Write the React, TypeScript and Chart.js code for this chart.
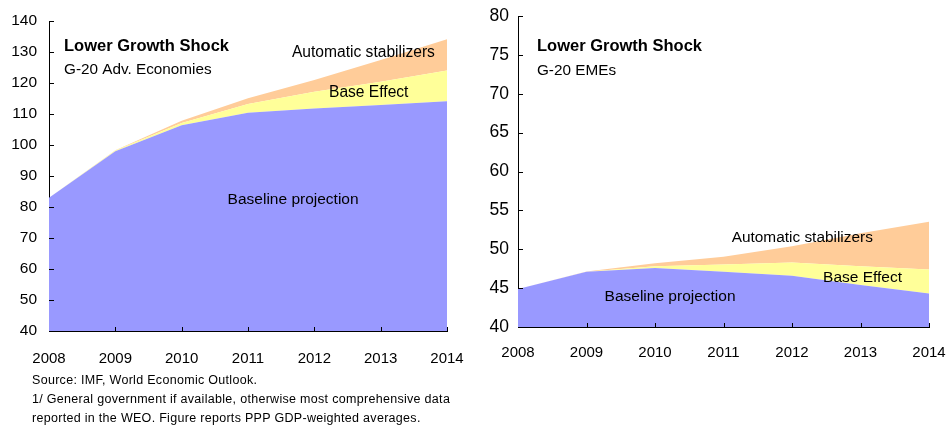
import React, { useEffect, useRef } from "react";
import { Chart, registerables } from "chart.js";

Chart.register(...registerables);

const years = ["2008", "2009", "2010", "2011", "2012", "2013", "2014"];

// G-20 Advanced Economies (stack components)
const advBaseline = [83, 98, 106.4, 110.4, 111.8, 112.9, 114.1];
const advBaseEffect = [0, 0.2, 0.7, 2.8, 5.4, 7.5, 9.9];
const advAutoStab = [0, 0.1, 0.7, 1.9, 3.8, 7.0, 10.1];

// G-20 Emerging Market Economies (stack components)
const emeBaseline = [44.9, 47.1, 47.6, 47.1, 46.6, 45.4, 44.3];
const emeBaseEffect = [0, 0, 0.2, 0.95, 1.7, 2.4, 3.1];
const emeAutoStab = [0, 0.05, 0.4, 1.0, 2.1, 4.25, 6.15];

const advYRange = [40, 140, 10];
const emeYRange = [40, 80, 5];

const seriesNames = ["Baseline projection", "Base Effect", "Automatic stabilizers"];
const seriesColors = ["#9999FF", "#FFFF99", "#FFCC99"];

const footnotes = [
  "Source: IMF, World Economic Outlook.",
  "1/ General government if available, otherwise most comprehensive data",
  "reported in the WEO. Figure reports PPP GDP-weighted averages.",
];

const FONT = "'Liberation Sans', Arial, sans-serif";

type Label = { text: string; x: number; y: number; bold?: boolean; size: number; align: CanvasTextAlign };

const advLabels: Label[] = [
  { text: "Lower Growth Shock", x: 0.226, y: 131.9, bold: true, size: 16.5, align: "left" },
  { text: "G-20 Adv. Economies", x: 0.226, y: 124.2, size: 15.3, align: "left" },
  { text: "Automatic stabilizers", x: 4.74, y: 129.8, size: 15.6, align: "center" },
  { text: "Base Effect", x: 4.82, y: 116.9, size: 15.6, align: "center" },
  { text: "Baseline projection", x: 3.68, y: 82.3, size: 15.5, align: "center" },
];

const emeLabels: Label[] = [
  { text: "Lower Growth Shock", x: 0.277, y: 76.14, bold: true, size: 16.5, align: "left" },
  { text: "G-20 EMEs", x: 0.277, y: 72.9, size: 15.3, align: "left" },
  { text: "Automatic stabilizers", x: 4.15, y: 51.45, size: 15.4, align: "center" },
  { text: "Base Effect", x: 5.03, y: 46.4, size: 15.5, align: "center" },
  { text: "Baseline projection", x: 2.22, y: 43.86, size: 15.5, align: "center" },
];

const decorPlugin = {
  id: "decor",
  afterDatasetsDraw(chart: any, _args: any, opts: any) {
    const { ctx, scales } = chart;
    const xs = scales.x;
    const ys = scales.y;
    const area = chart.chartArea;
    ctx.save();
    // inner tick marks
    ctx.strokeStyle = "#000";
    ctx.lineWidth = 1;
    ctx.beginPath();
    xs.ticks.forEach((_t: any, i: number) => {
      if (i === 0) return;
      const px = Math.round(xs.getPixelForTick(i)) + 0.5;
      ctx.moveTo(px, area.bottom);
      ctx.lineTo(px, area.bottom - 4);
    });
    ys.ticks.forEach((_t: any, i: number) => {
      const py = Math.round(ys.getPixelForTick(i)) + 0.5;
      ctx.moveTo(area.left, py);
      ctx.lineTo(area.left + 5, py);
    });
    ctx.stroke();
    // text labels
    (opts.labels || []).forEach((l: Label) => {
      ctx.font = `${l.bold ? "bold " : ""}${l.size}px ${FONT}`;
      ctx.fillStyle = "#000";
      ctx.textAlign = l.align;
      ctx.textBaseline = "middle";
      ctx.fillText(l.text, xs.getPixelForValue(l.x), ys.getPixelForValue(l.y));
    });
    ctx.restore();
  },
};

type PanelProps = {
  baseline: number[];
  baseEffect: number[];
  autoStab: number[];
  yRange: number[];
  labels: Label[];
  width: number;
  height: number;
  axisWidth: number;
  axisHeight: number;
  padTop: number;
  padRight: number;
  yFont: number;
  yPad: number;
  xPad: number;
};

function Panel(p: PanelProps) {
  const ref = useRef<HTMLCanvasElement>(null);
  useEffect(() => {
    if (!ref.current) return;
    const values = [p.baseline, p.baseEffect, p.autoStab];
    const chart = new Chart(ref.current, {
      type: "line",
      data: {
        labels: years,
        datasets: values.map((v, i) => ({
          label: seriesNames[i],
          data: v,
          backgroundColor: seriesColors[i],
          borderWidth: 0,
          borderColor: seriesColors[i],
          pointRadius: 0,
          fill: i === 0 ? "start" : "-1",
          tension: 0,
        })),
      },
      options: {
        responsive: false,
        animation: false,
        layout: { padding: { top: p.padTop, right: p.padRight, left: 0, bottom: 0 } },
        plugins: {
          legend: { display: false },
          tooltip: { enabled: false },
          decor: { labels: p.labels },
        } as any,
        scales: {
          x: {
            offset: false,
            grid: { display: false, drawTicks: false },
            border: { display: true, color: "#000", width: 1 },
            ticks: {
              color: "#000",
              font: { family: FONT, size: 15 },
              padding: p.xPad,
              maxRotation: 0,
              autoSkip: false,
            },
            afterFit: (s: any) => {
              s.height = p.axisHeight;
              s.paddingLeft = 0;
              s.paddingRight = 0;
            },
          },
          y: {
            stacked: true,
            min: p.yRange[0],
            max: p.yRange[1],
            grid: { display: false, drawTicks: false },
            border: { display: true, color: "#000", width: 1 },
            ticks: {
              stepSize: p.yRange[2],
              color: "#000",
              font: { family: FONT, size: p.yFont },
              padding: p.yPad,
            },
            afterFit: (s: any) => {
              s.width = p.axisWidth;
              s.paddingTop = 0;
              s.paddingBottom = 0;
            },
          },
        },
      },
      plugins: [decorPlugin],
    });
    return () => chart.destroy();
  }, []);
  return <canvas ref={ref} width={p.width} height={p.height} style={{ display: "block" }} />;
}

export default function App() {
  return (
    <div style={{ position: "absolute", left: 0, top: 0, width: 949, height: 428, background: "#fff" }}>
      <div style={{ position: "absolute", left: 0, top: 0 }}>
        <Panel
          baseline={advBaseline}
          baseEffect={advBaseEffect}
          autoStab={advAutoStab}
          yRange={advYRange}
          labels={advLabels}
          width={470}
          height={372}
          axisWidth={49}
          axisHeight={41}
          padTop={21}
          padRight={23}
          yFont={15.5}
          yPad={12}
          xPad={19}
        />
      </div>
      <div style={{ position: "absolute", left: 470, top: 0 }}>
        <Panel
          baseline={emeBaseline}
          baseEffect={emeBaseEffect}
          autoStab={emeAutoStab}
          yRange={emeYRange}
          labels={emeLabels}
          width={479}
          height={372}
          axisWidth={48}
          axisHeight={45}
          padTop={16}
          padRight={20}
          yFont={17.5}
          yPad={9}
          xPad={17}
        />
      </div>
      <div
        style={{
          position: "absolute",
          left: 32,
          top: 371,
          fontFamily: FONT,
          fontSize: 12.5,
          lineHeight: "19px",
          letterSpacing: "0.3px",
          color: "#000",
          whiteSpace: "nowrap",
        }}
      >
        {footnotes.map((f, i) => (
          <div key={i}>{f}</div>
        ))}
      </div>
    </div>
  );
}
